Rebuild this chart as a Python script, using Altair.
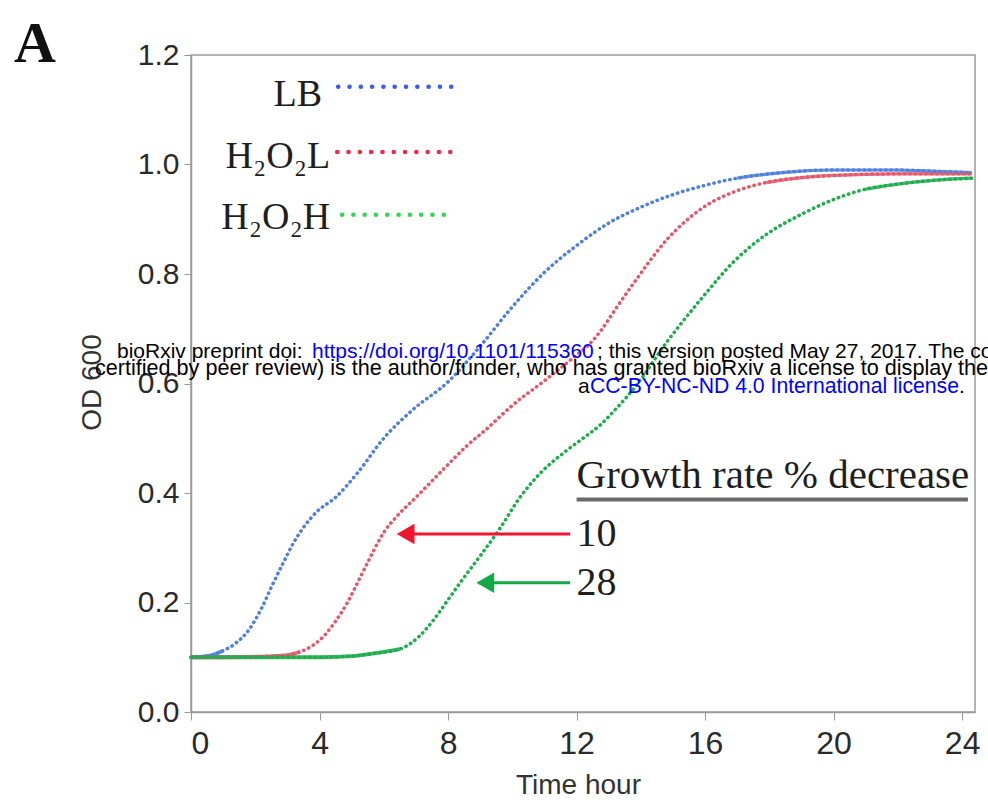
import altair as alt
import pandas as pd

# ---------------- data ----------------
lb_t = [0, 0.5, 1.0, 1.4, 1.8, 2.2, 2.5, 2.85, 3.2, 3.5, 3.9, 4.5, 5.2, 6.0, 6.9, 8.0,
        9.0, 10.0, 11.0, 12.0, 13.0, 14.0, 15.0, 16.0, 17.0, 18.0, 19.0, 20.0, 21.0,
        22.0, 23.0, 24.3]
lb_od = [0.100, 0.102, 0.112, 0.126, 0.150, 0.190, 0.228, 0.270, 0.310, 0.337, 0.365,
         0.392, 0.438, 0.500, 0.552, 0.603, 0.668, 0.740, 0.803, 0.852, 0.893, 0.922,
         0.945, 0.962, 0.975, 0.983, 0.988, 0.990, 0.990, 0.990, 0.988, 0.985]

h2o2l_t = [0, 1, 2, 3, 3.4, 3.8, 4.2, 4.5, 4.85, 5.2, 5.6, 6.0, 6.4, 7.0, 7.9, 8.6,
           9.2, 10.0, 11.0, 12.0, 12.4, 12.75, 13.2, 13.8, 14.8, 15.9, 16.9, 17.9, 19.0,
           20.0, 22.0, 24.3]
h2o2l_od = [0.100, 0.100, 0.101, 0.104, 0.110, 0.122, 0.143, 0.166, 0.198, 0.238, 0.285,
            0.328, 0.357, 0.392, 0.446, 0.487, 0.517, 0.560, 0.605, 0.652, 0.672, 0.696,
            0.735, 0.785, 0.862, 0.920, 0.950, 0.967, 0.976, 0.980, 0.983, 0.983]

h2o2h_t = [0, 2, 4, 5, 5.8, 6.5, 7.1, 7.6, 8.0, 8.4, 9.0, 9.6, 10.25, 10.9, 11.7, 12.2,
           12.75, 13.2, 13.8, 14.8, 15.9, 16.9, 17.9, 19.0, 20.0, 21.0, 22.1, 23.1, 24.3]
h2o2h_od = [0.100, 0.100, 0.100, 0.102, 0.108, 0.115, 0.138, 0.172, 0.205, 0.238, 0.285,
            0.334, 0.393, 0.438, 0.478, 0.500, 0.525, 0.552, 0.592, 0.675, 0.756, 0.823,
            0.872, 0.909, 0.936, 0.955, 0.965, 0.971, 0.975]

series_names = ["LB", "H2O2L", "H2O2H"]
legend_labels = ["LB", "H\u2082O\u2082L", "H\u2082O\u2082H"]
curve_colors = ["#4f80dd", "#e2596c", "#20ad4e"]
legend_colors = ["#3a5cf0", "#f02a48", "#30d852"]
# end of lag phase / start of plateau (hours) where the dense points look solid
lag_end = [1.0, 3.4, 6.5]
plateau_start = [17.0, 17.9, 21.0]

x_ticks = [0, 4, 8, 12, 16, 20, 24]
y_ticks = [0.0, 0.2, 0.4, 0.6, 0.8, 1.0, 1.2]

rate_labels = ["10", "28"]
rate_colors = ["#f0152f", "#14a847"]

# ---------------- tables ----------------
parts = []
for name, tt, oo, le, ps in zip(series_names, [lb_t, h2o2l_t, h2o2h_t],
                                [lb_od, h2o2l_od, h2o2h_od], lag_end, plateau_start):
    parts.append(pd.DataFrame({"t": tt, "od": oo, "series": name,
                               "lag": le, "plat": ps}))
curves = pd.concat(parts, ignore_index=True)

leg = pd.DataFrame({
    "label": legend_labels,
    "col": legend_colors,
    "tx": [4.08, 4.33, 4.33],
    "ty": [1.127, 1.014, 0.902],
    "x1": [4.58, 4.55, 4.7],
    "x2": [8.1, 8.15, 8.15],
    "dy": [1.142, 1.023, 0.908],
})

arrows = pd.DataFrame({
    "label": rate_labels,
    "col": rate_colors,
    "x1": [11.8, 11.8],
    "x2": [6.5, 8.95],
    "tip": [6.68, 9.16],
    "y": [0.325, 0.236],
    "lx": [12.0, 12.0],
})

X_SCALE = alt.Scale(domain=[0, 24.4], nice=False, zero=False)
Y_SCALE = alt.Scale(domain=[0, 1.2], nice=False, zero=False)

x_enc = alt.X("t:Q", scale=X_SCALE, title="Time hour",
              axis=alt.Axis(values=x_ticks, format="d", labelFontSize=32,
                            labelFont="Liberation Sans", labelColor="#2a2a2a",
                            labelPadding=8, tickSize=8, tickColor="#9a9a9a",
                            domainColor="#9a9a9a", domainWidth=1.5, grid=False,
                            titleFont="Liberation Sans", titleFontSize=28,
                            titleFontWeight="normal", titleColor="#333333",
                            titleX=387, titleY=73, titleBaseline="middle",
                            titleAlign="center"))
y_enc = alt.Y("od:Q", scale=Y_SCALE, title="OD 600",
              axis=alt.Axis(values=y_ticks, format=".1f", labelFontSize=30,
                            labelFont="Liberation Sans", labelColor="#2a2a2a",
                            labelPadding=5, tickSize=7, tickColor="#9a9a9a",
                            domainColor="#9a9a9a", domainWidth=1.5, grid=False,
                            titleFont="Liberation Sans", titleFontSize=28,
                            titleFontWeight="normal", titleColor="#333333",
                            titleX=-99, titleY=327, titleAngle=270,
                            titleBaseline="middle", titleAlign="center"))

color_enc = alt.Color("series:N", scale=alt.Scale(domain=series_names, range=curve_colors),
                      legend=None)

base = alt.Chart(curves).encode(x=x_enc, y=y_enc, color=color_enc, detail="series:N")

lines = base.mark_line(
    strokeWidth=3.5, strokeDash=[0.4, 5.0], strokeCap="round", interpolate="monotone"
)
lag_lines = base.transform_filter("datum.t <= datum.lag").mark_line(
    strokeWidth=3.8, interpolate="monotone", opacity=0.9
)
plat_lines = base.transform_filter("datum.t >= datum.plat").mark_line(
    strokeWidth=3.2, interpolate="monotone", opacity=0.85
)

leg_text = alt.Chart(leg).mark_text(
    align="right", baseline="middle", font="Liberation Serif", fontSize=38,
    color="#1e1e1e"
).encode(x="tx:Q", y="ty:Q", text="label:N")

leg_dots = alt.Chart(leg).mark_rule(
    strokeWidth=4.5, strokeDash=[0.1, 11.2], strokeCap="round"
).encode(x="x1:Q", x2="x2:Q", y="dy:Q", color=alt.Color("col:N", scale=None))

arrow_lines = alt.Chart(arrows).mark_rule(strokeWidth=3).encode(
    x="x1:Q", x2="x2:Q", y="y:Q", color=alt.Color("col:N", scale=None))
arrow_heads = alt.Chart(arrows).mark_point(
    shape="triangle-left", filled=True, size=420, opacity=1
).encode(x="tip:Q", y="y:Q", color=alt.Color("col:N", scale=None))
rate_text = alt.Chart(arrows).mark_text(
    align="left", baseline="middle", font="Liberation Serif", fontSize=40,
    color="#1e1e1e"
).encode(x="lx:Q", y="y:Q", text="label:N")

head = pd.DataFrame({"x": [12.0], "y": [0.41], "x2": [24.18], "uy": [0.388],
                     "text": ["Growth rate % decrease"]})
head_text = alt.Chart(head).mark_text(
    align="left", baseline="alphabetic", font="Liberation Serif", fontSize=41,
    color="#1e1e1e"
).encode(x="x:Q", y="y:Q", text="text:N")
head_rule = alt.Chart(head).mark_rule(strokeWidth=4, color="#6a6a6a").encode(
    x="x:Q", x2="x2:Q", y="uy:Q")

# panel letter
letter = alt.Chart(pd.DataFrame({"s": ["A"]})).mark_text(
    align="left", baseline="alphabetic", font="Liberation Serif", fontSize=58,
    fontWeight="bold", color="#111111"
).encode(x=alt.value(-177), y=alt.value(7), text="s:N")

# bioRxiv watermark (pixel positions relative to plot origin)
wm_text = [
    "bioRxiv preprint doi: ",
    "https://doi.org/10.1101/115360",
    "; this version posted May 27, 2017. The copyright holder for this preprint (which was not",
    "certified by peer review) is the author/funder, who has granted bioRxiv a license to display the preprint in perpetuity. It is made available under",
    "a",
    "CC-BY-NC-ND 4.0 International license",
    ".",
]
wm_x = [117, 312, 597, 95, 578, 590, 959]
wm_y = [358, 358, 358, 375, 393, 393, 393]
wm_size = [21, 21, 21, 21.6, 21, 21.2, 21]
wm_col = ["#000000", "#0000ff", "#000000", "#000000", "#000000", "#0000ff", "#000000"]

wm_layers = []
for s, px, py, fs, c in zip(wm_text, wm_x, wm_y, wm_size, wm_col):
    wm_layers.append(
        alt.Chart(pd.DataFrame({"s": [s]})).mark_text(
            align="left", baseline="alphabetic", font="Liberation Sans",
            fontSize=fs, color=c
        ).encode(x=alt.value(px - 191), y=alt.value(py - 55), text="s:N")
    )

chart = alt.layer(
    lag_lines, plat_lines, lines, leg_dots, leg_text, arrow_lines, arrow_heads,
    rate_text, head_text, head_rule, letter, *wm_layers
).properties(
    width=784, height=657,
    autosize=alt.AutoSizeParams(type="none"),
    padding={"left": 191, "top": 55, "right": 13, "bottom": 93},
    background="white",
).configure_view(
    stroke="#9a9a9a", strokeWidth=1.5
)

chart.save("out.html", embed_options={"renderer": "svg", "actions": False})
